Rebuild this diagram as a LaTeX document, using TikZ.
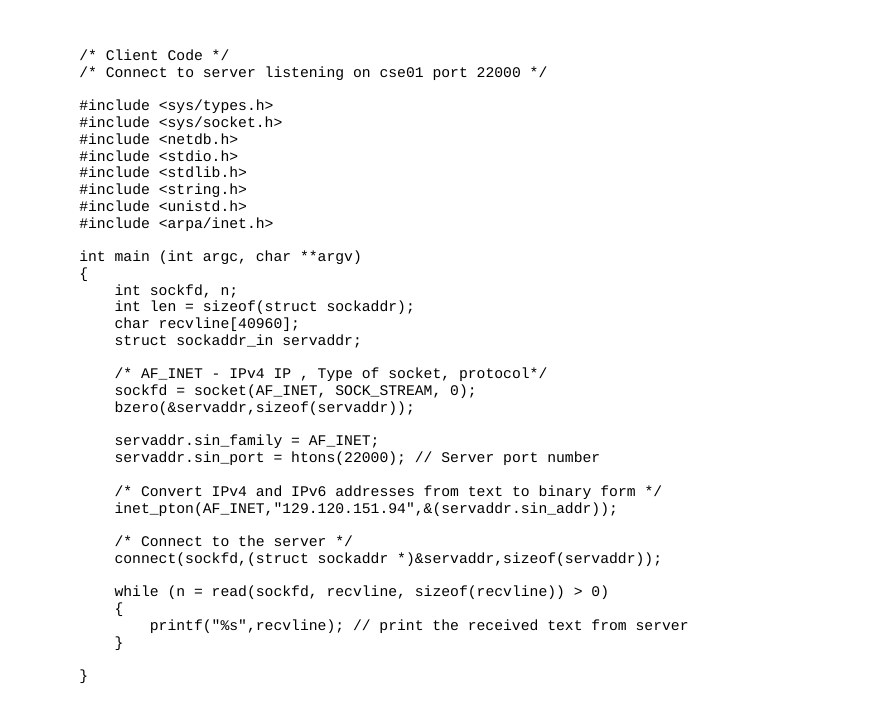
\documentclass[tikz,border=0pt]{standalone}
\usepackage{fontspec}
\setmonofont{Liberation Mono}
\usepackage{tikz}
\tikzstyle{codeline} = [anchor=base west, inner sep=0pt, text=black, font=\ttfamily\fontsize{11.04pt}{12.57pt}\selectfont]

\begin{document}
\begin{tikzpicture}
			[x=0.75pt, y=-0.75pt]

			\useasboundingbox (0,0) rectangle (881,701);
			\fill [white] (0,0) rectangle (881,701);

			\node (cmtclient) [codeline] at (79,60.50) {/* Client Code */};
			\node (cmtconnect) [codeline] at (79,77.26) {/* Connect to server listening on cse01 port 22000 */};

			\node (incltypes) [codeline] at (79,110.78) {\#include <sys/types.h>};
			\node (inclsocket) [codeline] at (79,127.54) {\#include <sys/socket.h>};
			\node (inclnetdb) [codeline] at (79,144.30) {\#include <netdb.h>};
			\node (inclstdio) [codeline] at (79,161.06) {\#include <stdio.h>};
			\node (inclstdlib) [codeline] at (79,177.82) {\#include <stdlib.h>};
			\node (inclstring) [codeline] at (79,194.58) {\#include <string.h>};
			\node (inclunistd) [codeline] at (79,211.34) {\#include <unistd.h>};
			\node (inclinet) [codeline] at (79,228.10) {\#include <arpa/inet.h>};

			\node (mainsig) [codeline] at (79,261.62) {int main (int argc, char **argv)};
			\node (mainopen) [codeline] at (79,278.38) {\{};
			\node (declsock) [codeline] at (114.3,295.14) {int sockfd, n;};
			\node (decllen) [codeline] at (114.3,311.90) {int len = sizeof(struct sockaddr);};
			\node (declbuf) [codeline] at (114.3,328.66) {char recvline[40960];};
			\node (decladdr) [codeline] at (114.3,345.42) {struct sockaddr\_in servaddr;};

			\node (cmtinet) [codeline] at (114.3,378.94) {/* AF\_INET - IPv4 IP , Type of socket, protocol*/};
			\node (callsocket) [codeline] at (114.3,395.70) {sockfd = socket(AF\_INET, SOCK\_STREAM, 0);};
			\node (callbzero) [codeline] at (114.3,412.46) {bzero(\&servaddr,sizeof(servaddr));};

			\node (setfamily) [codeline] at (114.3,445.98) {servaddr.sin\_family = AF\_INET;};
			\node (setport) [codeline] at (114.3,462.74) {servaddr.sin\_port = htons(22000); // Server port number};

			\node (cmtconvert) [codeline] at (114.3,496.26) {/* Convert IPv4 and IPv6 addresses from text to binary form */};
			\node (callpton) [codeline] at (114.3,513.02) {inet\_pton(AF\_INET,"129.120.151.94",\&(servaddr.sin\_addr));};

			\node (cmtserver) [codeline] at (114.3,546.54) {/* Connect to the server */};
			\node (callconnect) [codeline] at (114.3,563.30) {connect(sockfd,(struct sockaddr *)\&servaddr,sizeof(servaddr));};

			\node (whileloop) [codeline] at (114.3,596.82) {while (n = read(sockfd, recvline, sizeof(recvline)) > 0)};
			\node (whileopen) [codeline] at (114.3,613.58) {\{};
			\node (callprintf) [codeline] at (149.6,630.34) {printf("\%s",recvline); // print the received text from server};
			\node (whileclose) [codeline] at (114.3,647.10) {\}};

			\node (mainclose) [codeline] at (79,680.62) {\}};

			\end{tikzpicture}
\end{document}
